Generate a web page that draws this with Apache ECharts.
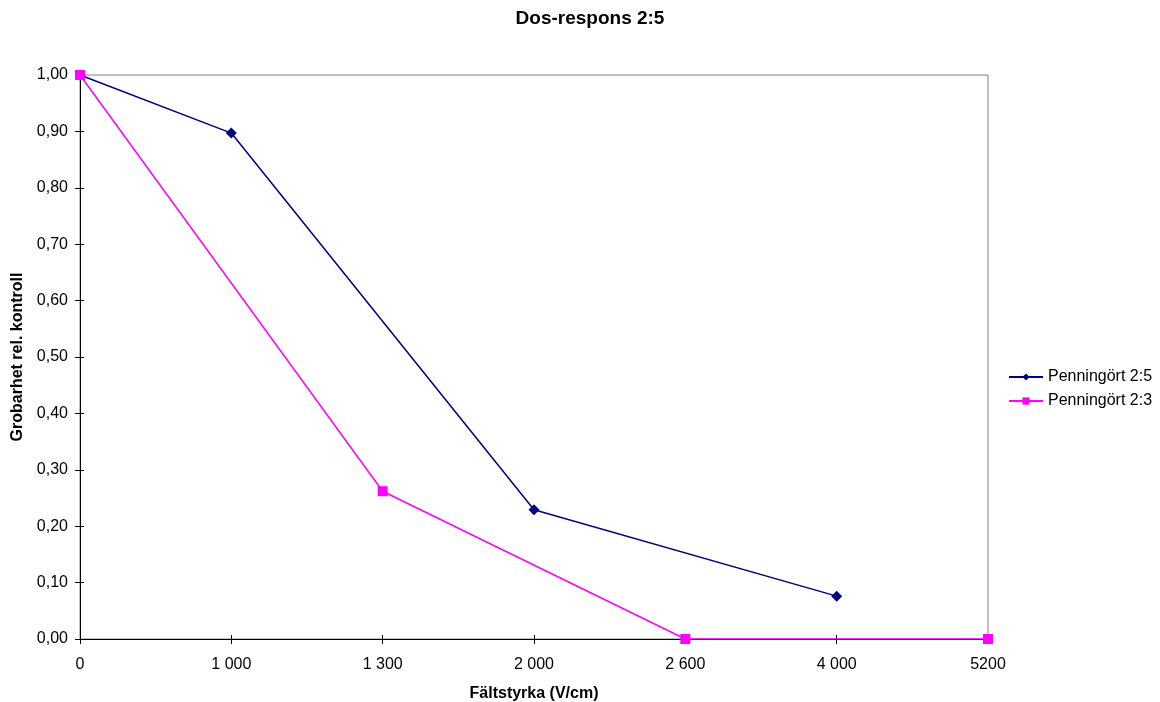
<!DOCTYPE html>
<html>
<head>
<meta charset="utf-8">
<script src="https://cdn.jsdelivr.net/npm/echarts@6/dist/echarts.min.js"></script>
<style>
  html, body { margin: 0; padding: 0; background: #fff; }
  #main { width: 1160px; height: 702px; }
</style>
</head>
<body>
<div id="main"></div>
<script>
// x categories (evenly spaced, like the original)
var categories = ['0', '1 000', '1 300', '2 000', '2 600', '4 000', '5200'];
// values, null where the series has no point
var penning25 = [1.00, 0.897, null, 0.229, null, 0.076, null];
var penning23 = [1.00, null, 0.262, null, 0.00, null, 0.00];

var font = 'Liberation Sans, Arial, sans-serif';
var myChart = echarts.init(document.getElementById('main'));

var option = {
    backgroundColor: '#fff',
    animation: false,
    title: {
        text: 'Dos-respons 2:5',
        left: 585,
        textAlign: 'center',
        top: 4,
        textStyle: { fontFamily: font, fontSize: 19, fontWeight: 'bold', color: '#000' }
    },
    legend: {
        orient: 'vertical',
        left: 1003,
        top: 364,
        itemGap: 8,
        itemWidth: 34,
        itemHeight: 9,
        textStyle: { fontFamily: font, fontSize: 16, color: '#000' },
        data: ['Penningört 2:5', 'Penningört 2:3']
    },
    grid: {
        left: 80, right: 172, top: 75, bottom: 63,
        outerBoundsMode: 'none',
        containLabel: false,
        show: true, borderColor: '#808080', borderWidth: 1, backgroundColor: '#fff'
    },
    xAxis: [{
        type: 'category',
        data: categories,
        boundaryGap: false,
        name: 'Fältstyrka (V/cm)',
        nameLocation: 'middle',
        nameGap: 47,
        nameTextStyle: { fontFamily: font, fontSize: 16, fontWeight: 'bold', color: '#000' },
        axisLine: { lineStyle: { color: '#000', width: 1 } },
        axisTick: { show: true, length: 5, inside: false, alignWithLabel: true, lineStyle: { color: '#000' } },
        axisLabel: { fontFamily: font, fontSize: 16, color: '#000', margin: 18 },
        splitLine: { show: false }
    }, {
        type: 'category',
        data: categories,
        boundaryGap: false,
        position: 'bottom',
        axisLine: { show: false },
        axisTick: { show: true, length: 4, inside: true, lineStyle: { color: '#000' } },
        axisLabel: { show: false },
        splitLine: { show: false }
    }],
    yAxis: [{
        type: 'value',
        min: 0,
        max: 1,
        interval: 0.1,
        name: 'Grobarhet rel. kontroll',
        nameLocation: 'middle',
        nameGap: 48,
        nameRotate: 90,
        nameTextStyle: { fontFamily: font, fontSize: 16, fontWeight: 'bold', color: '#000' },
        axisLine: { show: true, lineStyle: { color: '#000', width: 1 } },
        axisTick: { show: true, length: 5, lineStyle: { color: '#000' } },
        axisLabel: {
            fontFamily: font, fontSize: 16, color: '#000', margin: 12,
            formatter: function (v) { return v.toFixed(2).replace('.', ','); }
        },
        splitLine: { show: false }
    }, {
        type: 'value',
        min: 0,
        max: 1,
        interval: 0.1,
        position: 'left',
        axisLine: { show: false },
        axisTick: { show: true, length: 4, inside: true, lineStyle: { color: '#000' } },
        axisLabel: { show: false },
        splitLine: { show: false }
    }],
    series: [{
        name: 'Penningört 2:5',
        type: 'line',
        data: penning25,
        connectNulls: true,
        symbol: 'diamond',
        symbolSize: 11,
        itemStyle: { color: '#000080' },
        lineStyle: { color: '#000080', width: 1.5 }
    }, {
        name: 'Penningört 2:3',
        type: 'line',
        data: penning23,
        connectNulls: true,
        symbol: 'rect',
        symbolSize: 10,
        itemStyle: { color: '#ff00ff' },
        lineStyle: { color: '#ff00ff', width: 1.5 }
    }]
};

myChart.setOption(option);
</script>
</body>
</html>
